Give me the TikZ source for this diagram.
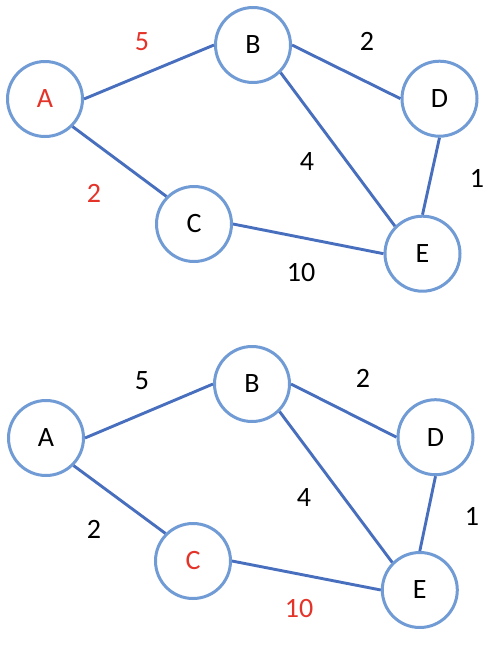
\documentclass[tikz,border=0pt]{standalone}
\usepackage{fontspec}
\setmainfont{Carlito}
\definecolor{ringblue}{RGB}{112,155,212}
\definecolor{edgeblue}{RGB}{72,110,190}
\definecolor{hired}{RGB}{228,52,42}
\begin{document}
\begin{tikzpicture}[x=1pt,y=-1pt,
  vertex/.style={circle,draw=ringblue,line width=3pt,fill=white,minimum size=75pt,inner sep=0pt,
    font=\fontsize{28}{33}\selectfont},
  wlabel/.style={inner sep=0pt,font=\fontsize{28}{33}\selectfont},
  edge/.style={draw=edgeblue,line width=2.9pt},
  hot/.style={text=hired}]
\useasboundingbox (0,0) rectangle (497,654);
% top graph
\node[vertex,hot] (A1) at (45,99) {A};
\node[vertex] (B1) at (253,45) {B};
\node[vertex] (C1) at (194,224) {C};
\node[vertex] (D1) at (439.5,98.7) {D};
\node[vertex] (E1) at (422.5,253.7) {E};
\draw[edge] (A1.east) -- (B1.west);
\draw[edge] (A1.south east) -- (C1.north west);
\draw[edge] (B1.east) -- (D1.west);
\draw[edge] (B1.south east) -- (E1.north west);
\draw[edge] (D1.south) -- (E1.north);
\draw[edge] (C1.east) -- (E1.west);
\node[wlabel,hot] (l1) at (142,42) {5};
\node[wlabel,hot] (l2) at (94,193) {2};
\node[wlabel] (l3) at (367,41) {2};
\node[wlabel] (l4) at (307,162) {4};
\node[wlabel] (l5) at (477,178) {1};
\node[wlabel] (l6) at (301,273) {10};
% bottom graph
\node[vertex] (A2) at (46,438) {A};
\node[vertex] (B2) at (252,384) {B};
\node[vertex,hot] (C2) at (193,561) {C};
\node[vertex] (D2) at (435.5,437.2) {D};
\node[vertex] (E2) at (419.8,590) {E};
\draw[edge] (A2.east) -- (B2.west);
\draw[edge] (A2.south east) -- (C2.north west);
\draw[edge] (B2.east) -- (D2.west);
\draw[edge] (B2.south east) -- (E2.north west);
\draw[edge] (D2.south) -- (E2.north);
\draw[edge] (C2.east) -- (E2.west);
\node[wlabel] (m1) at (142,381) {5};
\node[wlabel] (m2) at (94,529) {2};
\node[wlabel] (m3) at (363,378) {2};
\node[wlabel] (m4) at (304,498) {4};
\node[wlabel] (m5) at (472,516) {1};
\node[wlabel,hot] (m6) at (299,609) {10};
\end{tikzpicture}
\end{document}
